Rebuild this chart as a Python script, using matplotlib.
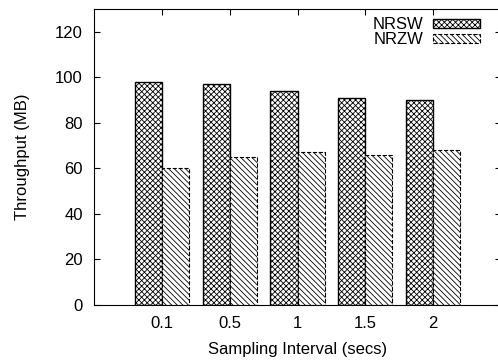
import numpy as np
import matplotlib.pyplot as plt

plt.rcParams['font.family'] = ['Liberation Sans', 'DejaVu Sans']
plt.rcParams['hatch.linewidth'] = 0.6

intervals = ["0.1", "0.5", "1", "1.5", "2"]
nrsw = [98, 97, 94, 91, 90]
nrzw = [60, 65, 67, 66, 68]

fig = plt.figure(figsize=(4.98, 3.6), dpi=100)
ax = fig.add_axes([94/498, 55/360, 407/498, 296/360])

x = np.arange(len(intervals))
w = 0.4
ax.bar(x - w/2, nrsw, w, facecolor="white", edgecolor="black", hatch="xxxxxx",
       linewidth=1.0, label="NRSW")
ax.bar(x + w/2, nrzw, w, facecolor="white", edgecolor="black", hatch="\\" * 6,
       linewidth=0.8, linestyle="--", label="NRZW")

ax.set_xlim(-1, 5)
ax.set_ylim(0, 130)
ax.set_xticks(x)
ax.set_xticklabels(intervals)
ax.set_yticks(range(0, 121, 20))
ax.tick_params(direction="in", top=True, right=True, labelsize=12, length=4)
ax.tick_params(axis="y", pad=8)
ax.tick_params(axis="x", pad=8)
ax.set_xlabel("Sampling Interval (secs)", fontsize=12, labelpad=8)
ax.set_ylabel("Throughput (MB)", fontsize=12, labelpad=18)

ax.legend(loc="upper right", bbox_to_anchor=(0.948, 0.972), frameon=False, markerfirst=False,
          fontsize=12, handlelength=2.8, handleheight=0.4, labelspacing=0.0,
          handletextpad=0.6, borderaxespad=0, borderpad=0)

plt.savefig("out.png", dpi=100)
